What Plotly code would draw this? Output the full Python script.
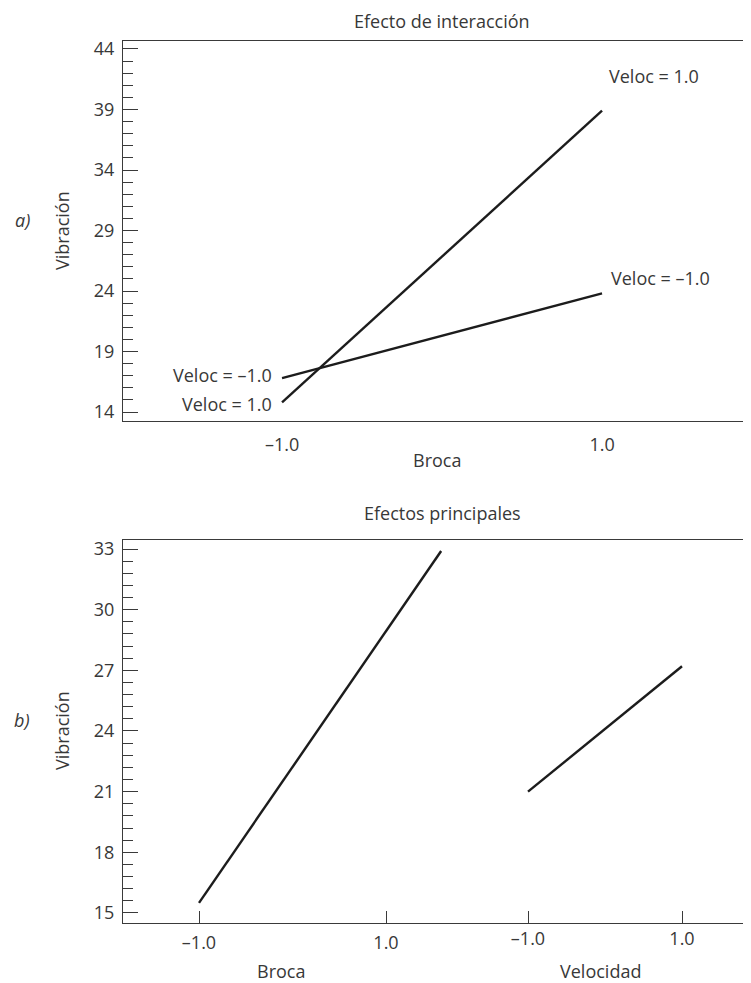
import plotly.graph_objects as go

# ---------------- data ----------------
broca_levels_top = [-1.0, 1.0]
veloc_minus = [16.8, 23.8]   # Veloc = -1.0
veloc_plus = [14.8, 38.9]    # Veloc = 1.0

broca_x = [-1.0, 1.59]
broca_means = [15.5, 32.9]
velocidad_x = [-1.0, 1.0]
velocidad_means = [21.0, 27.2]

top_yticks = [14, 19, 24, 29, 34, 39, 44]
bot_yticks = [15, 18, 21, 24, 27, 30, 33]
x_tickvals = [-1.0, 1.0]
x_ticktext = ["\u20131.0", "1.0"]

# page is offset by the default 8px body margin
OFF = 8
W, H = 751 - OFF, 983 - OFF
FONT = "Open Sans"
TXT = "#383838"
LINE = "#1c1c1c"
AX = "#3a3a3a"
FS = 18


def px(x):
    return (x - OFF) / W


def py(y):
    return 1 - (y - OFF) / H


xdom = [px(123), 1.0]
top_dom = [py(421), py(41)]
bot_dom = [py(923), py(540)]

fig = go.Figure()

fig.add_trace(go.Scatter(x=broca_levels_top, y=veloc_minus, mode="lines",
                         line=dict(color=LINE, width=2.4), xaxis="x", yaxis="y",
                         showlegend=False, hoverinfo="skip"))
fig.add_trace(go.Scatter(x=broca_levels_top, y=veloc_plus, mode="lines",
                         line=dict(color=LINE, width=2.4), xaxis="x", yaxis="y",
                         showlegend=False, hoverinfo="skip"))
fig.add_trace(go.Scatter(x=broca_x, y=broca_means, mode="lines",
                         line=dict(color=LINE, width=2.4), xaxis="x2", yaxis="y3",
                         showlegend=False, hoverinfo="skip"))
fig.add_trace(go.Scatter(x=velocidad_x, y=velocidad_means, mode="lines",
                         line=dict(color=LINE, width=2.4), xaxis="x3", yaxis="y3",
                         showlegend=False, hoverinfo="skip"))

tickfont = dict(family=FONT, size=FS, color=TXT)

yleft_common = dict(showline=True, linecolor=AX, linewidth=1.2, ticks="inside",
                    ticklen=15, tickwidth=1.2, tickcolor=AX, showgrid=False,
                    zeroline=False, tickfont=tickfont, ticklabelstandoff=4)
yright_common = dict(showline=False, ticks="inside", ticklen=4, tickwidth=1.2,
                     tickcolor=AX, showticklabels=False, showgrid=False,
                     zeroline=False, side="right")

fig.update_layout(
    width=W, height=H,
    margin=dict(l=0, r=0, t=0, b=0, autoexpand=False),
    plot_bgcolor="white", paper_bgcolor="white",
    font=dict(family=FONT, size=FS, color=TXT),
    xaxis=dict(domain=xdom, anchor="y", range=[-1.994, 1.931],
               showline=True, mirror=True, linecolor=AX, linewidth=1.2,
               ticks="", tickvals=x_tickvals, ticktext=x_ticktext,
               tickfont=tickfont, showgrid=False, zeroline=False,
               ticklabelstandoff=7),
    yaxis=dict(domain=top_dom, anchor="x", range=[13.26, 44.66],
               tickvals=top_yticks,
               minor=dict(ticks="inside", ticklen=10, dtick=1, tick0=14,
                          tickcolor=AX, tickwidth=1.2, showgrid=False),
               **yleft_common),
    yaxis2=dict(overlaying="y", anchor="x", range=[13.26, 44.66],
                tickvals=top_yticks, **yright_common),
    xaxis2=dict(domain=xdom, anchor="y3", range=[-1.813, 4.904],
                showline=True, mirror=True, linecolor=AX, linewidth=1.2,
                ticks="inside", ticklen=12, tickwidth=1.2, tickcolor=AX,
                tickvals=x_tickvals, ticktext=x_ticktext, tickfont=tickfont,
                showgrid=False, zeroline=False, ticklabelstandoff=3),
    xaxis3=dict(overlaying="x2", anchor="y3", range=[-6.26, 1.896],
                showline=False, ticks="inside", ticklen=12, tickwidth=1.2,
                tickcolor=AX, tickvals=x_tickvals, ticktext=x_ticktext,
                tickfont=tickfont, showgrid=False, zeroline=False,
                side="bottom", ticklabelstandoff=3),
    yaxis3=dict(domain=bot_dom, anchor="x2", range=[14.505, 33.445],
                tickvals=bot_yticks,
                minor=dict(ticks="inside", ticklen=10, dtick=0.6, tick0=15,
                           tickcolor=AX, tickwidth=1.2, showgrid=False),
                **yleft_common),
    yaxis4=dict(overlaying="y3", anchor="x2", range=[14.505, 33.445],
                tickvals=bot_yticks, **yright_common),
)

ann = []


def txt(text, x, y, size=FS, angle=0, italic=False, xanchor="center"):
    ann.append(dict(text=f"<i>{text}</i>" if italic else text,
                    x=px(x), y=py(y), xref="paper", yref="paper",
                    showarrow=False, textangle=angle, xanchor=xanchor,
                    yanchor="middle",
                    font=dict(family=FONT, size=size, color=TXT)))


ann.append(dict(text="Efecto de interacción", x=px(442), y=1.0,
                xref="paper", yref="paper", showarrow=False,
                xanchor="center", yanchor="top", borderpad=0,
                font=dict(family=FONT, size=FS, color=TXT)))
txt("Efectos principales", 442, 513)
txt("Broca", 437, 460)
txt("Broca", 281, 971)
txt("Velocidad", 600, 971)
txt("Vibración", 62, 231, angle=-90)
txt("Vibración", 62, 731, angle=-90)
txt("a)", 22, 220, italic=True)
txt("b)", 22, 720, italic=True)

ann.append(dict(text="Veloc = 1.0", x=broca_levels_top[1], y=veloc_plus[1],
                xref="x", yref="y", showarrow=False, xanchor="left",
                yanchor="middle", xshift=5, yshift=35, font=tickfont))
ann.append(dict(text="Veloc = \u20131.0", x=broca_levels_top[1], y=veloc_minus[1],
                xref="x", yref="y", showarrow=False, xanchor="left",
                yanchor="middle", xshift=7, yshift=15, font=tickfont))
ann.append(dict(text="Veloc = \u20131.0", x=broca_levels_top[0], y=veloc_minus[0],
                xref="x", yref="y", showarrow=False, xanchor="right",
                yanchor="middle", xshift=-8, yshift=3, font=tickfont))
ann.append(dict(text="Veloc = 1.0", x=broca_levels_top[0], y=veloc_plus[0],
                xref="x", yref="y", showarrow=False, xanchor="right",
                yanchor="middle", xshift=-8, yshift=-2, font=tickfont))

fig.update_layout(annotations=ann)
fig.write_html("out.html")
